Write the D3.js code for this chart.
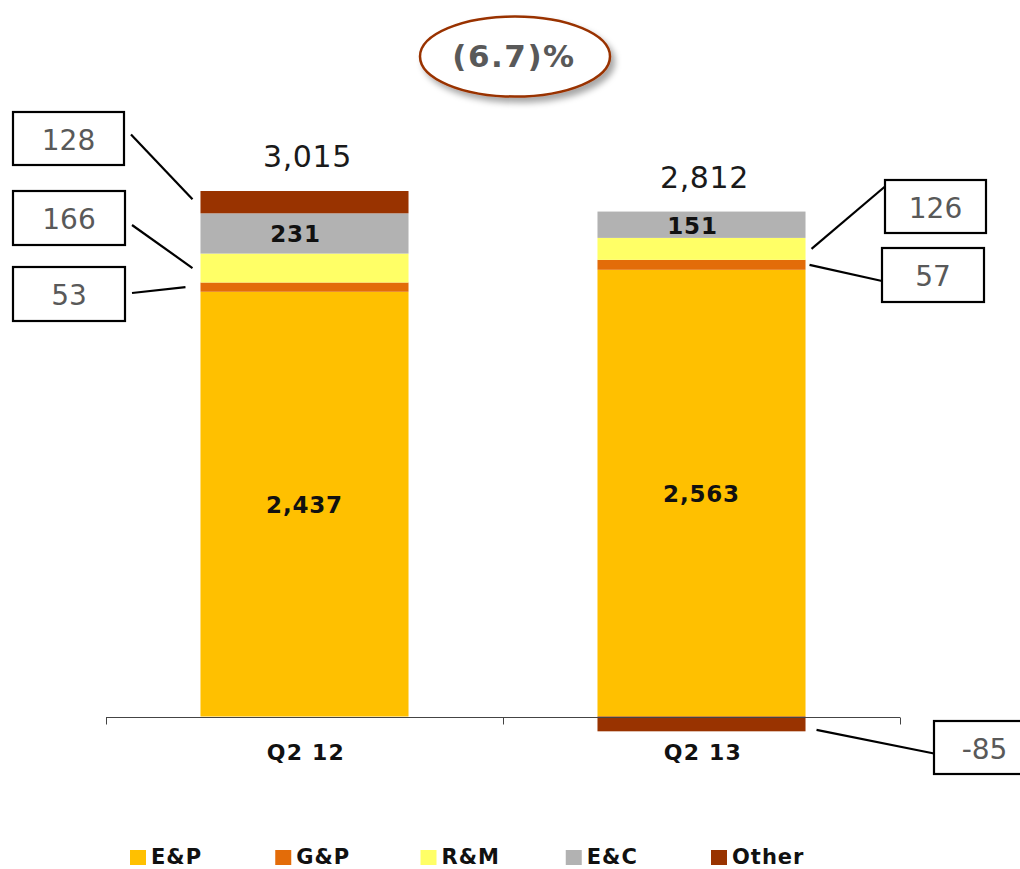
<!DOCTYPE html>
<html>
<head>
<meta charset="utf-8">
<script src="https://cdn.jsdelivr.net/npm/d3@7"></script>
<style>
  html, body { margin: 0; padding: 0; background: #fff; }
  svg { display: block; }
</style>
</head>
<body>
<svg id="chart" width="1020" height="869"></svg>
<script>
// ---------------- DATA ----------------
const categories = ["Q2 12", "Q2 13"];
const seriesNames = ["E&P", "G&P", "R&M", "E&C", "Other"];
const epValues = [2437, 2563];
const gpValues = [53, 57];
const rmValues = [166, 126];
const ecValues = [231, 151];
const otherValues = [128, -85];
const totals = [3015, 2812];
const changeLabel = "(6.7)%";

// ---------------- STYLE / LAYOUT ----------------
const colors = {"E&P": "#FFC000", "G&P": "#E36C09", "R&M": "#FFFF66", "E&C": "#B2B2B2", "Other": "#993300"};
const insideLabelSeries = {"E&P": 0, "E&C": -9}; // series shown inside bars, with x offset
// callout boxes: which segment, box geometry, connector anchor offsets
const callouts = [
  {cat: 0, series: "Other", bx: 13, by: 112, bw: 111, bh: 53, side: "left", gap: 8, boxDy: -4, segDy: -3},
  {cat: 0, series: "R&M",   bx: 13, by: 191, bw: 112, bh: 54, side: "left", gap: 8, boxDy: 7, segDy: 0},
  {cat: 0, series: "G&P",   bx: 13, by: 267, bw: 112, bh: 54, side: "left", gap: 15, boxDy: -1, segDy: 0},
  {cat: 1, series: "R&M",   bx: 885, by: 180, bw: 101, bh: 53, side: "right", gap: 6, boxDy: -20, segDy: 0},
  {cat: 1, series: "G&P",   bx: 882, by: 248, bw: 102, bh: 54, side: "right", gap: 4, boxDy: 6, segDy: 0},
  {cat: 1, series: "Other", bx: 934, by: 721, bw: 101, bh: 53, side: "right", gap: 11, boxDy: 6, segDy: 6}
];

const svg = d3.select("#chart");

// table for the stack
const table = categories.map((c, i) => ({
  cat: c,
  "E&P": epValues[i], "G&P": gpValues[i], "R&M": rmValues[i], "E&C": ecValues[i], "Other": otherValues[i]
}));

const stack = d3.stack().keys(seriesNames).offset(d3.stackOffsetDiverging);
const layers = stack(table);

const x = d3.scaleBand().domain(categories).range([106, 900]).paddingInner(0).paddingOuter(0);
const barFrac = 0.524;
const barW = x.bandwidth() * barFrac;
const barX = c => x(c) + (x.bandwidth() - barW) / 2;

const y = d3.scaleLinear().domain([0, 3015]).range([716.5, 191]);

// defs: shadow
const defs = svg.append("defs");
const f = defs.append("filter").attr("id", "shadow").attr("x", "-20%").attr("y", "-20%").attr("width", "150%").attr("height", "160%");
f.append("feDropShadow").attr("dx", 4).attr("dy", 5).attr("stdDeviation", 3).attr("flood-color", "#000").attr("flood-opacity", 0.35);

// bars
const gBars = svg.append("g");
layers.forEach(layer => {
  gBars.selectAll(null).data(layer).enter().append("rect")
    .attr("x", d => barX(d.data.cat))
    .attr("width", barW)
    .attr("y", d => y(Math.max(d[0], d[1])))
    .attr("height", d => Math.abs(y(d[0]) - y(d[1])))
    .attr("fill", colors[layer.key]);
});

// axis
const axisY = y(0) + 0.5;
const gAxis = svg.append("g").attr("transform", `translate(0,${Math.round(axisY) + 0.5})`);
gAxis.append("line").attr("x1", 106).attr("x2", 900).attr("stroke", "#444").attr("stroke-width", 1);
const tickXs = [...categories.map(c => x(c)), x(categories[categories.length - 1]) + x.bandwidth()];
gAxis.selectAll(".tk").data(tickXs).enter().append("line")
  .attr("x1", d => Math.round(d) + 0.5).attr("x2", d => Math.round(d) + 0.5)
  .attr("y1", 0).attr("y2", 7).attr("stroke", "#444").attr("stroke-width", 1);

// category labels
svg.selectAll(".cat").data(categories).enter().append("text")
  .attr("x", d => x(d) + x.bandwidth() / 2 + 1.5)
  .attr("y", 760)
  .attr("text-anchor", "middle")
  .attr("font-family", "DejaVu Sans, Verdana, sans-serif")
  .attr("font-weight", "bold")
  .attr("font-size", 22)
  .attr("letter-spacing", 1.2)
  .attr("fill", "#111")
  .text(d => d);

// inside labels
layers.forEach(layer => {
  if (!(layer.key in insideLabelSeries)) return;
  const dx = insideLabelSeries[layer.key];
  svg.selectAll(null).data(layer).enter().append("text")
    .attr("x", d => barX(d.data.cat) + barW / 2 + dx)
    .attr("y", d => (y(d[0]) + y(d[1])) / 2 + 9)
    .attr("text-anchor", "middle")
    .attr("font-family", "DejaVu Sans, Verdana, sans-serif")
    .attr("font-weight", "bold")
    .attr("font-size", 23)
    .attr("letter-spacing", 0.8)
    .attr("fill", "#111")
    .text(d => d3.format(",")(d.data[layer.key]));
});

// totals
const posTop = categories.map((c, i) => d3.max(layers, l => l[i][1]));
svg.selectAll(".tot").data(categories).enter().append("text")
  .attr("x", d => x(d) + x.bandwidth() / 2 + 3)
  .attr("y", (d, i) => y(posTop[i]) - 24)
  .attr("text-anchor", "middle")
  .attr("font-family", "DejaVu Sans, Verdana, sans-serif")
  .attr("font-size", 30)
  .attr("letter-spacing", 0.6)
  .attr("fill", "#1a1a1a")
  .text((d, i) => d3.format(",")(totals[i]));

// callouts
const gCall = svg.append("g");
callouts.forEach(co => {
  const layer = layers.find(l => l.key === co.series);
  const d = layer[co.cat];
  const segMid = (y(d[0]) + y(d[1])) / 2;
  const bx0 = barX(categories[co.cat]);
  const endX = co.side === "left" ? bx0 - co.gap : bx0 + barW + co.gap;
  const boxEdgeX = co.side === "left" ? co.bx + co.bw + 7 : co.bx;
  const boxEdgeY = co.by + co.bh / 2 + co.boxDy;
  gCall.append("line")
    .attr("x1", boxEdgeX).attr("y1", boxEdgeY)
    .attr("x2", endX).attr("y2", segMid + co.segDy)
    .attr("stroke", "#000").attr("stroke-width", 2.2);
  gCall.append("rect")
    .attr("x", co.bx).attr("y", co.by).attr("width", co.bw).attr("height", co.bh)
    .attr("fill", "#fff").attr("stroke", "#000").attr("stroke-width", 2.2);
  gCall.append("text")
    .attr("x", co.bx + co.bw / 2)
    .attr("y", co.by + co.bh / 2 + 11)
    .attr("text-anchor", "middle")
    .attr("font-family", "DejaVu Sans, Verdana, sans-serif")
    .attr("font-size", 28)
    .attr("fill", "#595959")
    .text(String(table[co.cat][co.series]));
});

// change ellipse
const gE = svg.append("g");
gE.append("ellipse").attr("cx", 515).attr("cy", 56.5).attr("rx", 95).attr("ry", 40)
  .attr("fill", "#fff").attr("stroke", "#993300").attr("stroke-width", 2.5)
  .attr("filter", "url(#shadow)");
gE.append("text").attr("x", 514).attr("y", 67)
  .attr("text-anchor", "middle")
  .attr("font-family", "DejaVu Sans, Verdana, sans-serif")
  .attr("font-weight", "bold").attr("font-size", 31)
  .attr("letter-spacing", 1.5)
  .attr("fill", "#595959")
  .text(changeLabel);

// legend
const legX = d3.scaleLinear().domain([0, seriesNames.length - 1]).range([130, 711]);
const gL = svg.append("g");
seriesNames.forEach((s, i) => {
  const lx = legX(i);
  gL.append("rect").attr("x", lx).attr("y", 850).attr("width", 16).attr("height", 15).attr("fill", colors[s]);
  gL.append("text").attr("x", lx + 21).attr("y", 864)
    .attr("font-family", "DejaVu Sans, Verdana, sans-serif")
    .attr("font-weight", "bold").attr("font-size", 21)
    .attr("letter-spacing", 1)
    .attr("fill", "#111")
    .text(s);
});
</script>
</body>
</html>
